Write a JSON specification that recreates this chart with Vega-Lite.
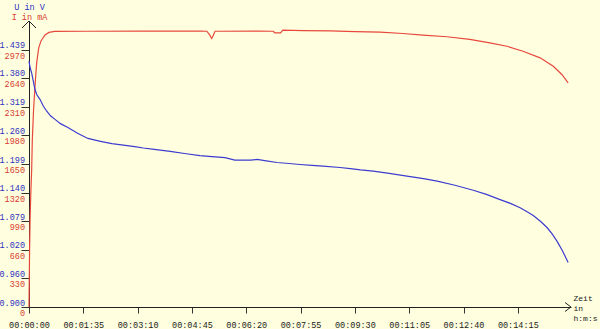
{
  "$schema": "https://vega.github.io/schema/vega-lite/v6.json",
  "width": 542,
  "height": 286,
  "autosize": {"type": "none"},
  "padding": {"left": 29, "top": 21, "right": 29, "bottom": 22},
  "background": "#ffffe0",
  "config": {
    "view": {"stroke": null},
    "font": "Liberation Mono",
    "axis": {"grid": false, "labelFont": "Liberation Mono", "titleFont": "Liberation Mono", "labelFontSize": 8.5, "titleFontSize": 8.5, "titleFontWeight": "normal", "domainColor": "#222222", "tickColor": "#333333"}
  },
  "datasets": {
    "spannung": [
      {"t": 0, "U": 1.415}, {"t": 2, "U": 1.401}, {"t": 4.7, "U": 1.39}, {"t": 7.5, "U": 1.373},
      {"t": 10.5, "U": 1.355}, {"t": 14, "U": 1.344}, {"t": 19.2, "U": 1.335}, {"t": 25, "U": 1.321},
      {"t": 31, "U": 1.31}, {"t": 38, "U": 1.3}, {"t": 45.5, "U": 1.293}, {"t": 55, "U": 1.284},
      {"t": 68, "U": 1.276}, {"t": 85, "U": 1.264}, {"t": 103, "U": 1.253}, {"t": 125, "U": 1.247},
      {"t": 145, "U": 1.242}, {"t": 165, "U": 1.239}, {"t": 185, "U": 1.236}, {"t": 200, "U": 1.233},
      {"t": 219, "U": 1.23}, {"t": 247, "U": 1.226}, {"t": 275, "U": 1.221}, {"t": 299, "U": 1.217},
      {"t": 320, "U": 1.215}, {"t": 343, "U": 1.213}, {"t": 360, "U": 1.2075}, {"t": 387, "U": 1.2075},
      {"t": 399, "U": 1.209}, {"t": 415, "U": 1.206}, {"t": 434, "U": 1.2026}, {"t": 455, "U": 1.2005},
      {"t": 474, "U": 1.1985}, {"t": 495, "U": 1.1968}, {"t": 514, "U": 1.1949}, {"t": 544, "U": 1.1922},
      {"t": 562, "U": 1.19}, {"t": 580, "U": 1.187}, {"t": 602, "U": 1.1844}, {"t": 630, "U": 1.18},
      {"t": 661, "U": 1.174}, {"t": 690, "U": 1.169}, {"t": 714, "U": 1.1635}, {"t": 745, "U": 1.155},
      {"t": 777, "U": 1.1446}, {"t": 800, "U": 1.136}, {"t": 824, "U": 1.125}, {"t": 842, "U": 1.117},
      {"t": 859, "U": 1.108}, {"t": 872, "U": 1.099}, {"t": 882, "U": 1.0916}, {"t": 895, "U": 1.079},
      {"t": 906, "U": 1.0665}, {"t": 915, "U": 1.053}, {"t": 924, "U": 1.037}, {"t": 933, "U": 1.018},
      {"t": 943, "U": 0.993}
    ],
    "strom": [
      {"t": 0, "I": 0}, {"t": 1, "I": 650}, {"t": 2, "I": 1050}, {"t": 3.5, "I": 1380},
      {"t": 4.7, "I": 1590}, {"t": 5.8, "I": 1930}, {"t": 8, "I": 2280}, {"t": 11, "I": 2600},
      {"t": 13.5, "I": 2820}, {"t": 17, "I": 2990}, {"t": 21, "I": 3070}, {"t": 28, "I": 3140},
      {"t": 35, "I": 3168}, {"t": 45, "I": 3180}, {"t": 100, "I": 3182}, {"t": 200, "I": 3184},
      {"t": 300, "I": 3183}, {"t": 311, "I": 3182}, {"t": 316, "I": 3140}, {"t": 319.6, "I": 3098},
      {"t": 322, "I": 3130}, {"t": 325.4, "I": 3182}, {"t": 400, "I": 3184}, {"t": 427, "I": 3182},
      {"t": 430, "I": 3164}, {"t": 440, "I": 3164}, {"t": 444, "I": 3194}, {"t": 480, "I": 3190},
      {"t": 527, "I": 3186}, {"t": 570, "I": 3178}, {"t": 614, "I": 3171}, {"t": 654, "I": 3156},
      {"t": 689, "I": 3136}, {"t": 731, "I": 3118}, {"t": 771, "I": 3087}, {"t": 806, "I": 3048},
      {"t": 836, "I": 3009}, {"t": 864, "I": 2951}, {"t": 894, "I": 2875}, {"t": 917, "I": 2778},
      {"t": 932, "I": 2683}, {"t": 943, "I": 2587}
    ],
    "pfeilx": [{"t": 948, "I": 0}],
    "pfeily": [{"t": 0, "I": 3300}]
  },
  "layer": [
    {
      "data": {"name": "strom"},
      "mark": {"type": "line", "color": "#e8483c", "strokeWidth": 1.2, "clip": false},
      "encoding": {
        "x": {"field": "t", "type": "quantitative", "scale": {"domain": [0, 948], "nice": false, "zero": false},
          "axis": {"values": [0, 95, 190, 285, 380, 475, 570, 665, 760, 855],
            "labelExpr": "'00:' + (floor(datum.value/60) < 10 ? '0' : '') + floor(datum.value/60) + ':' + (datum.value % 60 < 10 ? '0' : '') + (datum.value % 60)",
            "tickSize": 6, "labelPadding": 7, "labelColor": "#222222", "labelFlush": false,
            "title": ["Zeit", "in", "h:m:s"], "titleAlign": "left", "titleAnchor": null, "titleX": 544, "titleY": -13, "titleBaseline": "top", "titleLineHeight": 10, "titleColor": "#222222", "titleFontSize": 8}},
        "y": {"field": "I", "type": "quantitative", "scale": {"domain": [0, 3300], "nice": false},
          "axis": {"orient": "left", "values": [0, 330, 660, 990, 1320, 1650, 1980, 2310, 2640, 2970], "format": "d",
            "labelColor": "#d83c30", "labelOffset": 5.5, "tickSize": 8, "labelPadding": -3.5,
            "title": "I in mA", "titleColor": "#d83c30", "titleAngle": 0, "titleAlign": "center", "titleAnchor": null, "titleX": 0, "titleY": -4.5, "titleBaseline": "middle"}}
      }
    },
    {
      "data": {"name": "spannung"},
      "mark": {"type": "line", "color": "#3c3cd0", "strokeWidth": 1.2, "clip": false},
      "encoding": {
        "x": {"field": "t", "type": "quantitative"},
        "y": {"field": "U", "type": "quantitative", "scale": {"domain": [0.9, 1.499], "nice": false, "zero": false},
          "axis": {"orient": "left", "values": [0.9, 0.96, 1.02, 1.079, 1.14, 1.199, 1.26, 1.319, 1.38, 1.439], "format": ".3f",
            "labelColor": "#3030c0", "labelOffset": -5, "labelPadding": 4.5, "domain": false, "ticks": false,
            "title": "U in V", "titleColor": "#3030c0", "titleAngle": 0, "titleAlign": "center", "titleAnchor": null, "titleX": 0, "titleY": -14.5, "titleBaseline": "middle"}}
      }
    },
    {
      "data": {"name": "pfeilx"},
      "mark": {"type": "point", "shape": "M -1 -0.75 L 0 0 L -1 0.75", "filled": false, "stroke": "#222222", "strokeWidth": 1, "size": 144, "opacity": 1, "clip": false},
      "encoding": {
        "x": {"field": "t", "type": "quantitative"},
        "y": {"field": "I", "type": "quantitative", "scale": {"domain": [0, 3300], "nice": false}, "axis": null}
      }
    },
    {
      "data": {"name": "pfeily"},
      "mark": {"type": "point", "shape": "M -1 1 L 0 0 L 1 1", "filled": false, "stroke": "#222222", "strokeWidth": 1, "size": 196, "opacity": 1, "clip": false},
      "encoding": {
        "x": {"field": "t", "type": "quantitative"},
        "y": {"field": "I", "type": "quantitative", "scale": {"domain": [0, 3300], "nice": false}, "axis": null}
      }
    }
  ],
  "resolve": {"scale": {"y": "independent"}}
}
